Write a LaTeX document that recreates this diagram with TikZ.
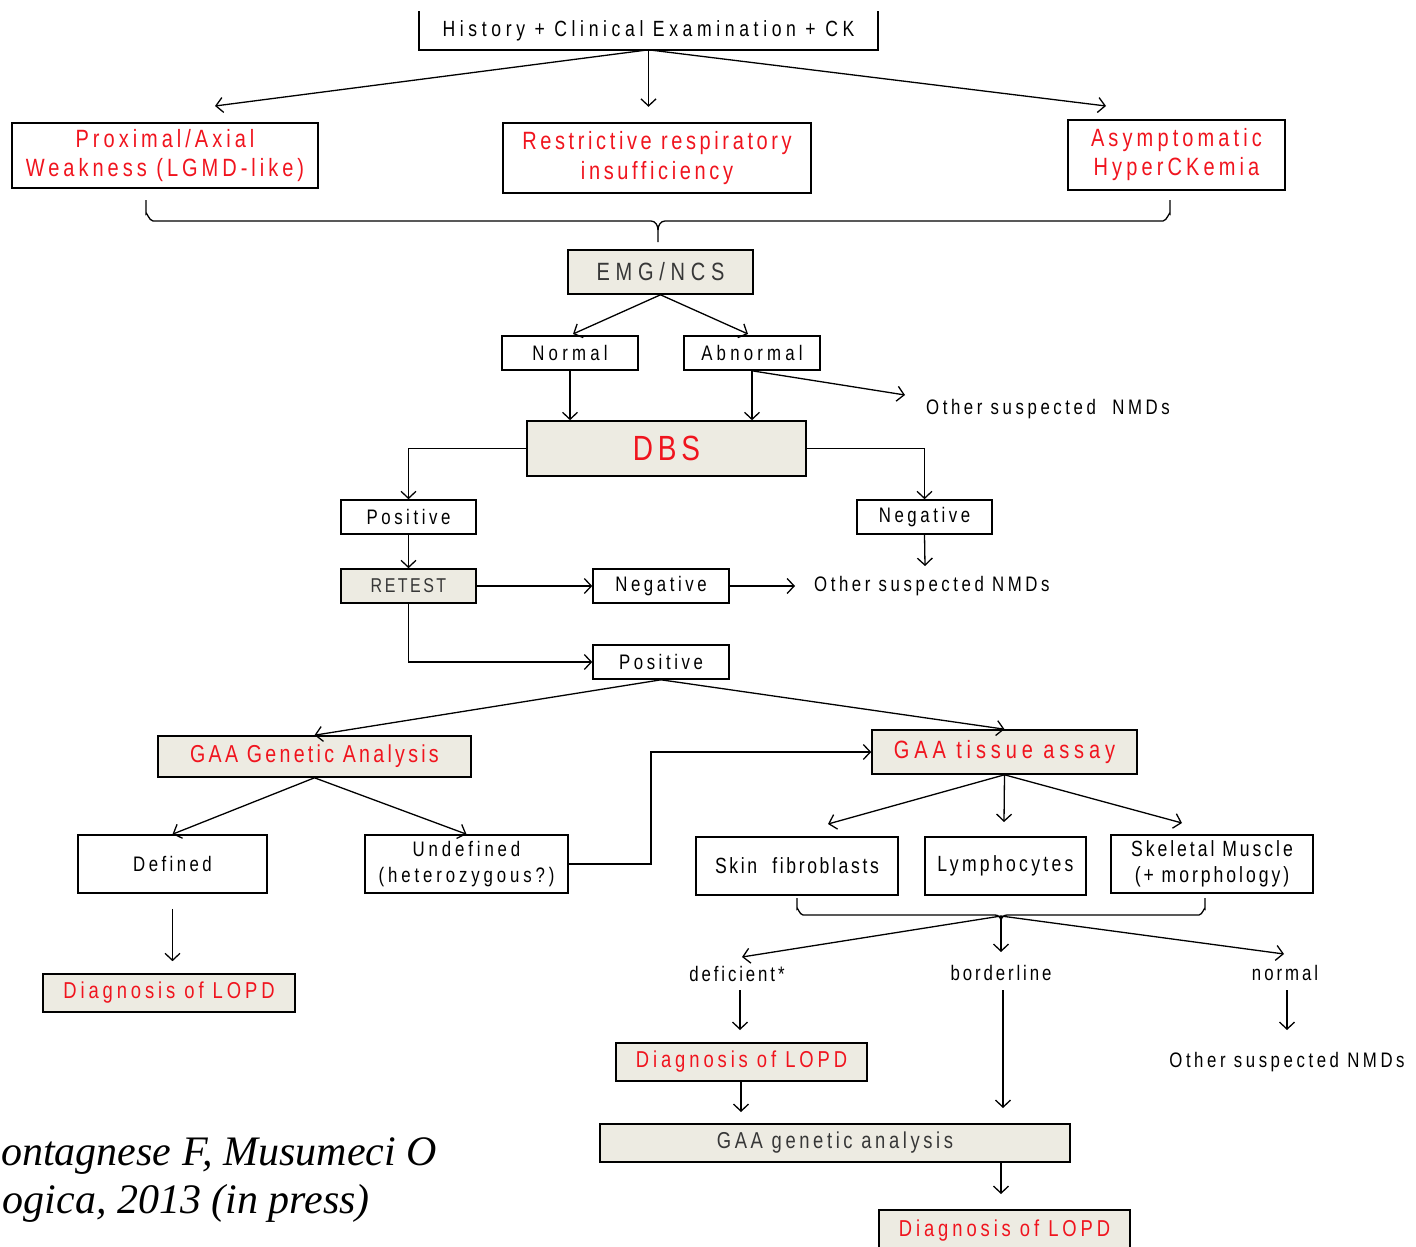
\documentclass[tikz,border=0pt]{standalone}
\usepackage{fontspec}
\setmainfont{Liberation Sans}[FakeStretch=0.8]
\newfontfamily\citefont{Liberation Serif}
\usetikzlibrary{arrows.meta}
\definecolor{gfill}{RGB}{237,235,226}
\definecolor{tred}{RGB}{240,20,30}
\definecolor{tgray}{RGB}{55,55,55}
\newcommand\fl[3]{\fontsize{#1}{#2}\selectfont\addfontfeatures{LetterSpace=#3}}
\newcommand\bx[7]{\node[#6, minimum width={(#4-#2)*1pt}, minimum height={(#5-#3)*1pt}] (#1) at ({(#2+#4)/2},{(#3+#5)/2}) {#7};}
\tikzset{
 box/.style={draw=black, line width=1.6pt, inner sep=0pt, align=center, font=\fl{21}{26}{17}},
 gbox/.style={box, fill=gfill},
 arr/.style={line width=1.3pt, -{Straight Barb[length=7pt,width=15pt]}},
 ln/.style={line width=1.3pt},
 lbl/.style={inner sep=0pt, font=\fl{21}{26}{17}},
}
\begin{document}
\begin{tikzpicture}[x=1pt,y=-1pt]
\useasboundingbox (0,0) rectangle (1416,1247);
% top
\bx{hist}{420}{12}{877}{49}{box,draw=none,font=\fl{22}{26}{21}}{History + Clinical Examination + CK}
\draw[line width=1.6pt] (hist.north west) -- (hist.south west) -- (hist.south east) -- (hist.north east);
\bx{prox}{12}{123}{318}{188}{box,text=tred,font=\fl{25}{29}{16}}{Proximal/Axial\\Weakness (LGMD-like)}
\bx{restr}{503}{123}{811}{193}{box,text=tred,font=\fl{25}{30}{14.5}}{Restrictive respiratory\\insufficiency}
\bx{asym}{1068}{120}{1285}{190}{box,text=tred,font=\fl{25}{29}{16.5}}{Asymptomatic\\HyperCKemia}
\coordinate (t1) at (215,106);
\coordinate (t3) at (1106,106);
\draw[arr] (hist.south) -- (t1);
\draw[arr] (hist.south) -- ++(0,57);
\draw[arr] (hist.south) -- (t3);
% brace 1
\draw[ln] (146,200) -- (146,214) to[out=90,in=180] (153,221) -- (651,221) to[out=0,in=90] (658,230) -- (658,242);
\draw[ln] (658,230) to[out=90,in=180] (665,221) -- (1163,221) to[out=0,in=90] (1170,214) -- (1170,200);
% EMG
\bx{emg}{568}{250}{753}{294}{gbox,text=tgray,font=\fl{25}{30}{23}}{EMG/NCS}
\bx{norm}{502}{336}{638}{370}{box,font=\fl{21}{26}{20}}{Normal}
\bx{abn}{684}{336}{820}{370}{box,font=\fl{21}{26}{20}}{Abnormal}
\draw[arr] (emg.south) -- (573,334);
\draw[arr] (emg.south) -- (748,334);
\node[lbl, anchor=west] (oth1) at (926,409) {Other suspected\ \ NMDs};
\coordinate (o1) at (905,395);
\draw[arr] (abn.south) -- (o1);
\bx{dbs}{527}{421}{806}{476}{gbox,text=tred,font=\fl{35}{40}{13.7}}{DBS}
\draw[arr] (norm.south) -- (norm.south |- dbs.north);
\draw[arr] (abn.south) -- (abn.south |- dbs.north);
\bx{pos1}{341}{500}{476}{534}{box}{Positive}
\bx{neg1}{857}{500}{992}{534}{box}{Negative}
\draw[arr] (dbs.west) -| (pos1.north);
\draw[arr] (dbs.east) -| (neg1.north);
\bx{retest}{341}{569}{476}{603}{gbox,text=tgray,font=\fl{20}{26}{12.4}}{RETEST}
\draw[arr] (pos1.south) -- (retest.north);
\bx{neg2}{593}{569}{729}{603}{box}{Negative}
\node[lbl, anchor=west] (oth2) at (814,586) {Other suspected NMDs};
\coordinate (o2a) at (925,566);
\coordinate (o2b) at (795,586);
\draw[arr] (neg1.south) -- (o2a);
\draw[arr] (retest.east) -- (neg2.west);
\draw[arr] (neg2.east) -- (o2b);
\bx{pos2}{593}{645}{729}{679}{box}{Positive}
\draw[arr] (retest.south) |- (pos2.west);
% genetic / tissue
\bx{gaag}{158}{736}{471}{777}{gbox,text=tred,font=\fl{24.5}{28}{13.4}}{GAA Genetic Analysis}
\bx{gaat}{872}{730}{1137}{774}{gbox,text=tred,font=\fl{25}{30}{19.5}}{GAA tissue assay}
\draw[arr] (pos2.south) -- (gaag.north);
\draw[arr] (pos2.south) -- (gaat.north);
\bx{defd}{78}{835}{267}{893}{box,font=\fl{21}{26}{16.4}}{Defined}
\bx{undef}{365}{835}{568}{893}{box,font=\fl{21}{26}{18.5}}{Undefined\\(heterozygous?)}
\draw[arr] (gaag.south) -- (defd.north);
\draw[arr] (gaag.south) -- (undef.north);
\coordinate (cut) at (651,800);
\draw[arr] (undef.east) -- (undef.east -| cut) |- (gaat.west);
\bx{diag1}{43}{974}{295}{1012}{gbox,text=tred,font=\fl{23}{28}{17}}{Diagnosis of LOPD}
\draw[arr, shorten <=15pt, shorten >=12pt] (defd.south) -- (defd.south |- diag1.north);
\bx{skin}{696}{837}{898}{895}{box,font=\fl{22}{26}{12}}{Skin\ \ fibroblasts}
\bx{lymph}{925}{837}{1086}{895}{box,font=\fl{22}{26}{15}}{Lymphocytes}
\bx{skel}{1111}{835}{1313}{893}{box,font=\fl{22}{26}{13.5}}{Skeletal Muscle\\(+ morphology)}
\draw[arr] (gaat.south) -- (828,824);
\draw[arr] (gaat.south) -- (1004,822);
\draw[arr] (gaat.south) -- (1182,823);
% brace 2
\draw[ln] (797,898) -- (797,909) to[out=90,in=180] (803,915) -- (995,915) to[out=0,in=90] (1001,921) -- (1001,924);
\draw[ln] (1001,921) to[out=90,in=180] (1007,915) -- (1199,915) to[out=0,in=90] (1205,909) -- (1205,898);
\coordinate (bc) at (1001,916);
\node[lbl, font=\fl{21}{26}{13.8}] (defic) at (737,974) {deficient*};
\node[lbl, font=\fl{21}{26}{13.8}] (border) at (1001,973) {borderline};
\node[lbl, font=\fl{21}{26}{14}] (normal) at (1285,973) {normal};
\draw[arr] (bc) -- (742,957);
\draw[arr] (bc) -- (1001,952);
\draw[arr] (bc) -- (1284,954);
\bx{diag2}{616}{1043}{867}{1081}{gbox,text=tred,font=\fl{23}{28}{17}}{Diagnosis of LOPD}
\node[lbl] (oth3) at (1287,1062) {Other suspected NMDs};
\bx{gaa2}{600}{1124}{1070}{1162}{gbox,text=tgray,font=\fl{23}{26}{15.7}}{GAA genetic analysis}
\bx{diag3}{879}{1210}{1130}{1252}{gbox,text=tred,font=\fl{23}{28}{17}}{Diagnosis of LOPD}
\draw[arr] (740,990) -- (740,1030);
\draw[arr] (1003,990) -- (1003,1108);
\draw[arr] (1287,990) -- (1287,1030);
\draw[arr] (diag2.south -| 741,0) -- (741,1112);
\draw[arr] (gaa2.south -| 1001,0) -- (1001,1194);
% citation
\node[anchor=base east, inner sep=0pt, font=\citefont\itshape\fontsize{42}{48}\selectfont] (cit1) at (437,1165) {ontagnese F, Musumeci O};
\node[anchor=base east, inner sep=0pt, font=\citefont\itshape\fontsize{42}{48}\selectfont] (cit2) at (370,1213) {ogica, 2013 (in press)};
\end{tikzpicture}
\end{document}
